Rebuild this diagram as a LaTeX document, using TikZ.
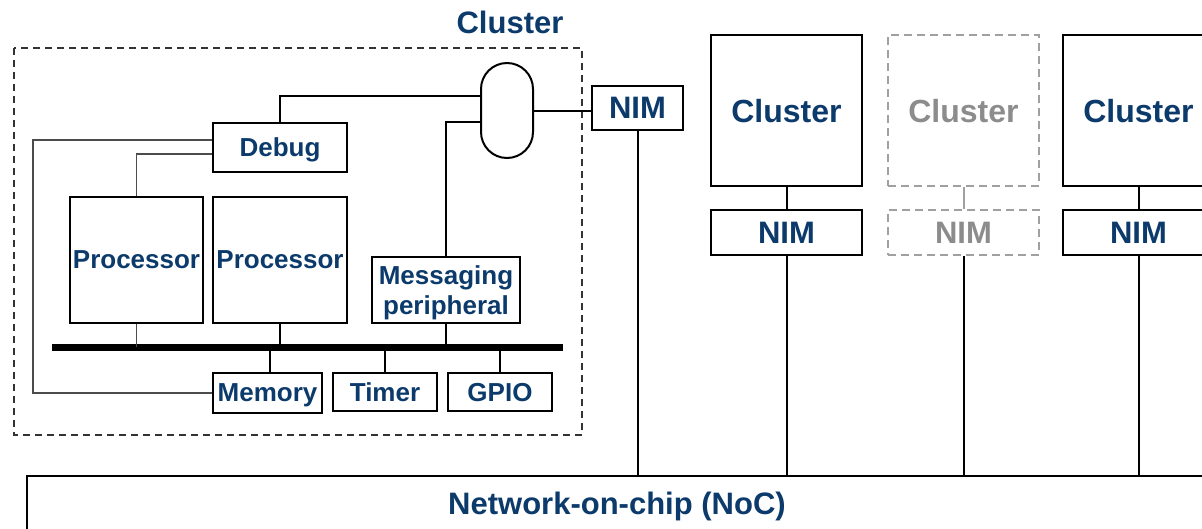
\documentclass[tikz,border=0pt]{standalone}
\usepackage{fontspec}
\setmainfont{Liberation Sans}
\usetikzlibrary{calc}
\definecolor{navy}{HTML}{0B3A6B}
\definecolor{ghost}{HTML}{8C8C8C}
\definecolor{ghostline}{HTML}{A0A0A0}
\tikzset{
  blk/.style={draw=black, line width=2pt, fill=white, inner sep=0pt, align=center,
    text=navy, text depth=0pt, font=\bfseries\fontsize{26}{30}\selectfont},
  bigtxt/.style={font=\bfseries\fontsize{32}{36}\selectfont},
  nimtxt/.style={font=\bfseries\fontsize{31}{34}\selectfont},
  ghostblk/.style={draw=ghostline, line width=1.5pt, dash pattern=on 8pt off 5pt, text=ghost},
  wire/.style={draw=black, line width=2pt},
  thinwire/.style={draw=black!70, line width=1.3pt},
  buswire/.style={draw=black, line width=7pt},
}
\begin{document}
\begin{tikzpicture}[x=1pt, y=-1pt]
\useasboundingbox (0,0) rectangle (1202,528);
\clip (0,0) rectangle (1202,528);

% detailed cluster outline and its title
\draw[black!80, line width=1.2pt, dash pattern=on 7pt off 5pt] (14,48) rectangle (582,435);
\node[text=navy, font=\bfseries\fontsize{31}{34}\selectfont] (title) at (510,22) {Cluster};

% blocks inside the cluster
\node[blk, minimum width=134pt, minimum height=49pt] (debug) at (280,147.5) {Debug};
\node[blk, minimum width=133pt, minimum height=126pt] (proc1) at (136.5,260) {Processor};
\node[blk, minimum width=134pt, minimum height=126pt] (proc2) at (280,260) {Processor};
\node[blk, minimum width=148pt, minimum height=66pt] (msg) at (446,290) {Messaging\\peripheral};
\node[blk, minimum width=109pt, minimum height=40pt] (mem) at (267.5,393) {Memory};
\node[blk, minimum width=104pt, minimum height=38pt] (timer) at (385,392) {Timer};
\node[blk, minimum width=104pt, minimum height=38pt] (gpio) at (500,392) {GPIO};
\node[draw=black, line width=2pt, fill=white, rounded corners=26pt,
      minimum width=52pt, minimum height=95pt, inner sep=0pt] (router) at (507,110.5) {};

% network interface of the detailed cluster
\node[blk, nimtxt, minimum width=91pt, minimum height=44pt] (nim1) at (637.5,108) {NIM};

% the other clusters
\node[blk, bigtxt, minimum width=151pt, minimum height=151pt] (c2) at (786.5,110.5) {Cluster};
\node[blk, nimtxt, minimum width=151pt, minimum height=45pt] (nim2) at (786.5,232.5) {NIM};
\node[blk, bigtxt, ghostblk, minimum width=151pt, minimum height=151pt] (c3) at (963.5,110.5) {Cluster};
\node[blk, nimtxt, ghostblk, minimum width=151pt, minimum height=45pt] (nim3) at (963.5,232.5) {NIM};
\node[blk, bigtxt, minimum width=151pt, minimum height=151pt] (c4) at (1138.5,110.5) {Cluster};
\node[blk, nimtxt, minimum width=151pt, minimum height=45pt] (nim4) at (1138.5,232.5) {NIM};

% network-on-chip
\node[draw=black, line width=2pt, fill=white, minimum width=1203pt, minimum height=84pt,
      inner sep=0pt] (noc) at (628.5,518) {};
\node[text=navy, font=\bfseries\fontsize{31}{34}\selectfont] (noclabel) at (617,506) {Network-on-chip (NoC)};

% system bus
\coordinate (busL) at (52,347);
\coordinate (busR) at (563,347);
\draw[buswire] (busL) -- (busR);

% bus attachments
\coordinate (memtap) at ($(mem.north)+(2.5,0)$);
\draw[thinwire] (proc1.south) -- (proc1.south |- busL);
\draw[wire] (proc2.south) -- (proc2.south |- busL);
\draw[wire] (msg.south) -- (msg.south |- busL);
\draw[wire] (memtap) -- (memtap |- busL);
\draw[wire] (timer.north) -- (timer.north |- busL);
\draw[wire] (gpio.north) -- (gpio.north |- busL);

% debug and messaging links to the router
\draw[wire] (debug.north) |- ($(router.west)+(0,-14.5)$);
\draw[wire] (msg.north) |- ($(router.west)+(0,11.5)$);
\draw[wire] (router.east) -- (router.east -| nim1.west);

% debug access lines
\coordinate (dbgA) at ($(debug.west)+(0,-7.5)$);
\coordinate (dbgB) at ($(debug.west)+(0,6.5)$);
\draw[thinwire] (dbgA) -- (33,140) |- (mem.west);
\draw[thinwire] (dbgB) -| (proc1.north);

% cluster to NIM links
\draw[wire] (c2.south) -- (nim2.north);
\draw[draw=ghostline, line width=2pt] (c3.south) -- (nim3.north);
\draw[wire] (c4.south) -- (nim4.north);

% NIM to NoC links
\draw[wire] (nim1.south) -- (nim1.south |- noc.north);
\draw[wire] (nim2.south) -- (nim2.south |- noc.north);
\draw[wire] (nim3.south) -- (nim3.south |- noc.north);
\draw[wire] (nim4.south) -- (nim4.south |- noc.north);
\end{tikzpicture}
\end{document}
